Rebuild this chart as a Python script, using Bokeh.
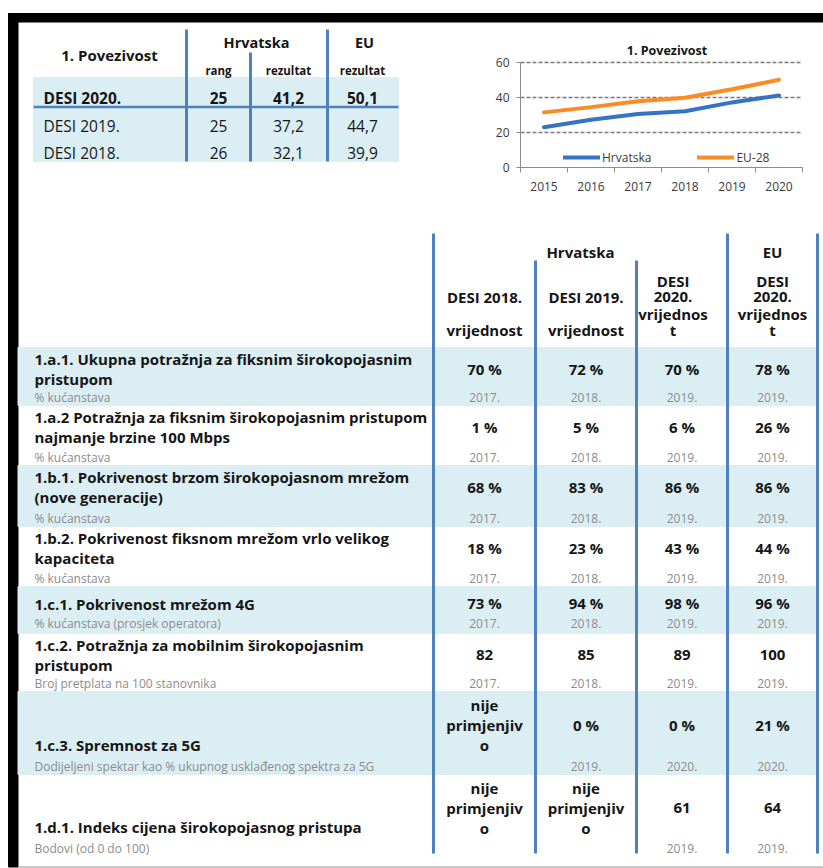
from bokeh.plotting import figure
from bokeh.models import (Range1d, FixedTicker, Legend, LegendItem, Label, ColumnDataSource,
                          LinearAxis)
from bokeh.embed import file_html
from bokeh.resources import INLINE
from bokeh.core.properties import value

# ---------------- data ----------------
summary_title = "1. Povezivost"
summary_groups = ["Hrvatska", "EU"]
summary_subheads = ["rang", "rezultat", "rezultat"]
summary_rows = ["DESI 2020.", "DESI 2019.", "DESI 2018."]
summary_rank_hr = ["25", "25", "26"]
summary_score_hr = ["41,2", "37,2", "32,1"]
summary_score_eu = ["50,1", "44,7", "39,9"]

chart_title = "1. Povezivost"
chart_years = [2015, 2016, 2017, 2018, 2019, 2020]
chart_hr = [23.0, 27.3, 30.6, 32.1, 37.2, 41.2]
chart_eu = [31.5, 34.5, 37.8, 39.9, 44.7, 50.1]
chart_series = ["Hrvatska", "EU-28"]
chart_yticks = [0, 20, 40, 60]

table_groups = ["Hrvatska", "EU"]
table_heads = ["DESI 2018.\n\nvrijednost", "DESI 2019.\n\nvrijednost",
               "DESI\n2020.\nvrijednos\nt", "DESI\n2020.\nvrijednos\nt"]

ind_titles = [
    "1.a.1. Ukupna potražnja za fiksnim širokopojasnim\npristupom",
    "1.a.2 Potražnja za fiksnim širokopojasnim pristupom\nnajmanje brzine 100 Mbps",
    "1.b.1. Pokrivenost brzom širokopojasnom mrežom\n(nove generacije)",
    "1.b.2. Pokrivenost fiksnom mrežom vrlo velikog\nkapaciteta",
    "1.c.1. Pokrivenost mrežom 4G",
    "1.c.2. Potražnja za mobilnim širokopojasnim\npristupom",
    "1.c.3. Spremnost za 5G",
    "1.d.1. Indeks cijena širokopojasnog pristupa",
]
ind_units = [
    "% kućanstava", "% kućanstava", "% kućanstava", "% kućanstava",
    "% kućanstava (prosjek operatora)", "Broj pretplata na 100 stanovnika",
    "Dodijeljeni spektar kao % ukupnog usklađenog spektra za 5G",
    "Bodovi (od 0 do 100)",
]
NA = "nije\nprimjenjiv\no"
val_hr_2018 = ["70 %", "1 %", "68 %", "18 %", "73 %", "82", NA, NA]
val_hr_2019 = ["72 %", "5 %", "83 %", "23 %", "94 %", "85", "0 %", NA]
val_hr_2020 = ["70 %", "6 %", "86 %", "43 %", "98 %", "89", "0 %", "61"]
val_eu_2020 = ["78 %", "26 %", "86 %", "44 %", "96 %", "100", "21 %", "64"]
yr_hr_2018 = ["2017.", "2017.", "2017.", "2017.", "2017.", "2017.", "", ""]
yr_hr_2019 = ["2018.", "2018.", "2018.", "2018.", "2018.", "2018.", "2019.", ""]
yr_hr_2020 = ["2019.", "2019.", "2019.", "2019.", "2019.", "2019.", "2020.", "2019."]
yr_eu_2020 = ["2019.", "2019.", "2019.", "2019.", "2019.", "2019.", "2020.", "2019."]

# ---------------- style ----------------
FONT = "Open Sans"
TEXT = "#161616"
GRAY = "#8c8c8c"
BAND = "#dbeef3"
RULE = "#4f81bd"
HR_BLUE = "#3574c4"
EU_ORANGE = "#fb8b24"
AXIS_GRAY = "#8c8c8c"
W, H = 823, 868

p = figure(width=W, height=H, x_range=Range1d(0, W), y_range=Range1d(H, 0),
           x_axis_location=None, y_axis_location=None,
           toolbar_location=None, output_backend="svg", min_border=0)
p.grid.visible = False
p.outline_line_color = None
p.background_fill_color = "white"
p.border_fill_color = "white"


def add_text(xs, ys, texts, size, style="normal", color=TEXT, align="center"):
    src = ColumnDataSource(dict(x=xs, y=ys, t=texts))
    p.text(x="x", y="y", text="t", source=src, text_font=value(FONT),
           text_font_size=value(size), text_font_style=style, text_color=color,
           text_align=align, text_baseline="middle")


# ---------------- frame ----------------
p.quad(left=[8], right=[W], top=[13], bottom=[21.5], color="black")
p.quad(left=[8], right=[17.5], top=[13], bottom=[866.5], color="black")
p.segment(x0=[17.5], x1=[W], y0=[866.5], y1=[866.5], line_color="#b4b4b4", line_width=1.5)

# ---------------- summary table (top left) ----------------
S_LEFT, S_RIGHT = 33, 398
S_COLS = [218, 288, 362]
S_ROW_Y = [97, 125, 152]
p.quad(left=[S_LEFT], right=[S_RIGHT], top=[77], bottom=[161], color=BAND)
p.segment(x0=[S_LEFT], x1=[S_RIGHT], y0=[106.5], y1=[106.5], line_color=RULE, line_width=2.5)
p.segment(x0=[186, 250, 327], x1=[186, 250, 327], y0=[29, 52, 29], y1=[161, 161, 161],
          line_color=RULE, line_width=3)
add_text([109], [54], [summary_title], "15px", "bold")
add_text([256, 364], [42, 42], summary_groups, "14.5px", "bold")
add_text(S_COLS, [70, 70, 70], summary_subheads, "11.5px", "bold")
for i, lab in enumerate(summary_rows):
    st = "bold" if i == 0 else "normal"
    add_text([43], [S_ROW_Y[i]], [lab], "15.5px", st, align="left")
    add_text(S_COLS, [S_ROW_Y[i]] * 3,
             [summary_rank_hr[i], summary_score_hr[i], summary_score_eu[i]], "15.5px", st)

# ---------------- line chart (top right) ----------------
# chart plot area in page pixels
CX0, CX1, CY_TOP, CY_BOT = 520, 802, 62, 167
x_lo, x_hi = chart_years[0] - 0.5, chart_years[-1] + 0.5
y_lo, y_hi = chart_yticks[0], chart_yticks[-1]
ppx = (CX1 - CX0) / (x_hi - x_lo)
ppy = (CY_BOT - CY_TOP) / (y_hi - y_lo)
p.extra_x_ranges = {"cx": Range1d(x_lo - CX0 / ppx, x_hi + (W - CX1) / ppx)}
p.extra_y_ranges = {"cy": Range1d(y_lo - (H - CY_BOT) / ppy, y_lo + CY_BOT / ppy)}

# dashed horizontal gridlines at the y ticks
gy = chart_yticks[1:]
p.segment(x0=[x_lo] * len(gy), x1=[x_hi] * len(gy), y0=gy, y1=gy,
          x_range_name="cx", y_range_name="cy",
          line_color="#7a7a7a", line_dash="4 2", line_width=1.3)

yax = LinearAxis(x_range_name="cx", y_range_name="cy", fixed_location=x_lo,
                 bounds=(y_lo, y_hi), ticker=FixedTicker(ticks=chart_yticks))
yax.axis_line_color = AXIS_GRAY
yax.major_tick_line_color = AXIS_GRAY
yax.major_tick_out = 4
yax.major_tick_in = 0
yax.minor_tick_line_color = None
yax.major_label_standoff = 7

bounds = [y - 0.5 for y in chart_years] + [chart_years[-1] + 0.5]
xax = LinearAxis(x_range_name="cx", y_range_name="cy", fixed_location=y_lo,
                 bounds=(x_lo, x_hi), ticker=FixedTicker(ticks=chart_years, minor_ticks=bounds))
xax.axis_line_color = AXIS_GRAY
xax.major_tick_line_color = None
xax.major_tick_out = 0
xax.major_tick_in = 0
xax.minor_tick_line_color = AXIS_GRAY
xax.minor_tick_out = 5
xax.minor_tick_in = 0
xax.major_label_standoff = 9
for ax in (xax, yax):
    ax.major_label_text_font = FONT
    ax.major_label_text_font_size = "12px"
    ax.major_label_text_color = "#3a3a3a"
p.add_layout(yax, "left")
p.add_layout(xax, "below")

r1 = p.line(chart_years, chart_hr, line_width=4, line_color=HR_BLUE, line_cap="round",
            x_range_name="cx", y_range_name="cy")
r2 = p.line(chart_years, chart_eu, line_width=4, line_color=EU_ORANGE, line_cap="round",
            x_range_name="cx", y_range_name="cy")
leg = Legend(items=[LegendItem(label=chart_series[0], renderers=[r1]),
                    LegendItem(label=chart_series[1], renderers=[r2])],
             orientation="horizontal", location=(563, H - CY_BOT), padding=0, margin=0,
             spacing=46, glyph_width=37, glyph_height=20, label_height=20,
             label_standoff=2, label_text_font=FONT, label_text_font_size="12px",
             label_text_color="#3a3a3a", background_fill_alpha=0, border_line_color=None)
p.add_layout(leg)
p.add_layout(Label(x=x_lo + (666.5 - CX0) / ppx, y=y_hi + (CY_TOP - 50) / ppy,
                   x_range_name="cx", y_range_name="cy", text=chart_title,
                   text_font=FONT, text_font_size="12.5px", text_font_style="bold",
                   text_color=TEXT, text_align="center", text_baseline="middle"))

# ---------------- indicator table (bottom) ----------------
ROW_TOPS = [347, 405, 465, 526, 586, 633, 691, 774]
ROW_END = 856
COL_LINES = [433, 535, 636, 727, 817]
COL_LINE_TOPS = [233, 260, 260, 233, 233]
COL_CENTERS = [484, 585.5, 681.5, 772]
TITLE_X = 34
value_cols = [val_hr_2018, val_hr_2019, val_hr_2020, val_eu_2020]
year_cols = [yr_hr_2018, yr_hr_2019, yr_hr_2020, yr_eu_2020]

band_t, band_b = [], []
for i, top in enumerate(ROW_TOPS):
    if i % 2 == 0:
        bot = ROW_TOPS[i + 1] if i + 1 < len(ROW_TOPS) else ROW_END
        band_t.append(top); band_b.append(bot)
p.quad(left=[17.5] * len(band_t), right=[816] * len(band_t), top=band_t, bottom=band_b,
       color=BAND)
p.segment(x0=COL_LINES, x1=COL_LINES, y0=COL_LINE_TOPS, y1=[853] * len(COL_LINES),
          line_color=RULE, line_width=3)

add_text([580, 772], [251, 251], table_groups, "15px", "bold")
hx, hy, ht = [], [], []
for c, head in enumerate(table_heads):
    lines = head.split("\n")
    n = len(lines)
    for k, ln in enumerate(lines):
        if ln:
            hx.append(COL_CENTERS[c] - (9 if c == 2 else 0))
            hy.append(329.5 - (n - 1 - k) * 16.5)
            ht.append(ln)
add_text(hx, hy, ht, "15px", "bold")

tx, ty, tt = [], [], []
ux, uy, ut = [], [], []
vx, vy, vt = [], [], []
yx, yy, yt = [], [], []
for i, top in enumerate(ROW_TOPS):
    bot = ROW_TOPS[i + 1] if i + 1 < len(ROW_TOPS) else ROW_END
    vals = [col[i] for col in value_cols]
    tall = any("\n" in v for v in vals)
    tlines = ind_titles[i].split("\n")
    unit_y = bot - 8.5
    if tall:
        title_ys = [bot - 29.5]
        val_line_ys = [top + 13 + 20 * k for k in range(3)]
        single_y = top + 33
    elif len(tlines) > 1:
        title_ys = [top + 11 + 20.5 * k for k in range(len(tlines))]
        single_y = (title_ys[0] + title_ys[-1]) / 2
        val_line_ys = [single_y]
    else:
        title_ys = [top + 17]
        single_y = top + 16
        val_line_ys = [single_y]
        unit_y = bot - 10
    for ln, y in zip(tlines, title_ys):
        tx.append(TITLE_X); ty.append(y); tt.append(ln)
    ux.append(TITLE_X); uy.append(unit_y); ut.append(ind_units[i])
    for c, v in enumerate(vals):
        vl = v.split("\n")
        if len(vl) == 1:
            vx.append(COL_CENTERS[c]); vy.append(single_y); vt.append(v)
        else:
            for ln, y in zip(vl, val_line_ys):
                vx.append(COL_CENTERS[c]); vy.append(y); vt.append(ln)
        yv = year_cols[c][i]
        if yv:
            yx.append(COL_CENTERS[c]); yy.append(unit_y); yt.append(yv)

add_text(tx, ty, tt, "15px", "bold", align="left")
add_text(ux, uy, ut, "12px", "normal", color=GRAY, align="left")
add_text(vx, vy, vt, "15px", "bold")
add_text(yx, yy, yt, "12px", "normal", color=GRAY)

open("out.html", "w").write(file_html(p, INLINE))
